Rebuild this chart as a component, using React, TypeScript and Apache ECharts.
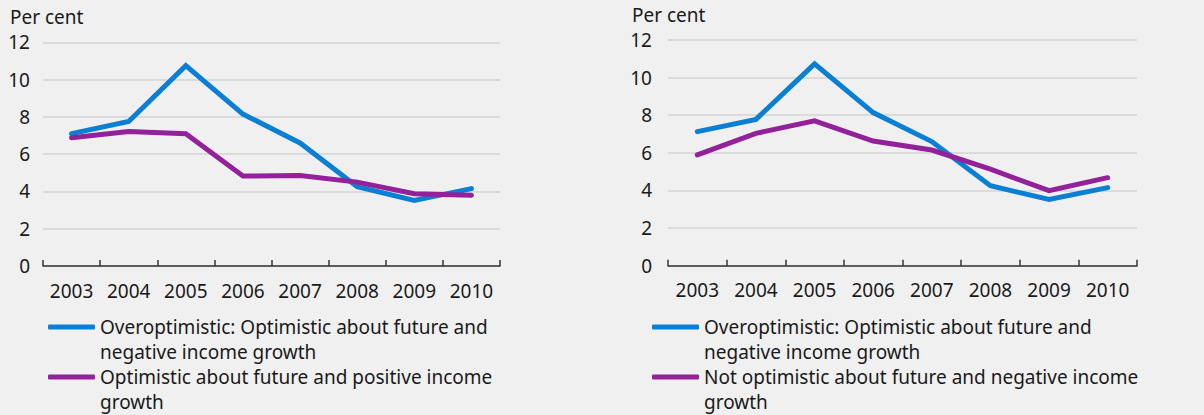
import React, { useEffect, useRef } from "react";
import * as echarts from "echarts";

const years = ["2003", "2004", "2005", "2006", "2007", "2008", "2009", "2010"];
const leftBlue = [7.1, 7.75, 10.75, 8.15, 6.6, 4.25, 3.52, 4.15];
const leftPurple = [6.88, 7.22, 7.1, 4.83, 4.85, 4.5, 3.88, 3.8];
const rightBlue = [7.13, 7.78, 10.73, 8.14, 6.6, 4.25, 3.52, 4.15];
const rightPurple = [5.89, 7.04, 7.7, 6.63, 6.15, 5.13, 3.99, 4.68];

const nameBlue = "Overoptimistic: Optimistic about future and\nnegative income growth";
const nameLeftPurple = "Optimistic about future and positive income\ngrowth";
const nameRightPurple = "Not optimistic about future and negative income\ngrowth";

const BLUE = "#0a7fd4";
const PURPLE = "#93219a";
const TEXT = "#1a1a1a";
const FONT = "Noto Sans";
const FS = 19;

export default function App() {
  const ref = useRef<HTMLDivElement>(null);
  useEffect(() => {
    document.body.style.margin = "0";
    const chart = echarts.init(ref.current!, null, { renderer: "svg" });
    const xAxisBase = (gridIndex: number) => ({
      type: "category" as const,
      gridIndex,
      data: years,
      boundaryGap: true,
      axisLine: { lineStyle: { color: "#333", width: 1.5 } },
      axisTick: { show: true, inside: true, length: 6, lineStyle: { color: "#333", width: 1.5 } },
      axisLabel: { color: TEXT, fontFamily: FONT, fontSize: FS, margin: 15 },
      splitLine: { show: false },
    });
    const yAxisBase = (gridIndex: number, margin: number) => ({
      type: "value" as const,
      gridIndex,
      min: 0,
      max: 12,
      interval: 2,
      axisLine: { show: false },
      axisTick: { show: false },
      axisLabel: { color: TEXT, fontFamily: FONT, fontSize: FS, margin, lineHeight: 19 },
      splitLine: { lineStyle: { color: "#d4d4d4", width: 1.5 } },
    });
    const lineSeries = (name: string, data: number[], color: string, idx: number) => ({
      type: "line" as const,
      name,
      data,
      xAxisIndex: idx,
      yAxisIndex: idx,
      showSymbol: false,
      symbol: "none",
      color,
      lineStyle: { color, width: 5, cap: "round" as const, join: "miter" as const },
    });
    const legendItem = (name: string, color: string, left: number, top: number) => ({
      data: [name],
      left,
      top,
      padding: 0,
      orient: "vertical" as const,
      icon: "roundRect",
      itemWidth: 47,
      itemHeight: 5,
      itemGap: 0,
      selectedMode: false,
      itemStyle: { color },
      formatter: (n: string) => "\n" + n,
      textStyle: {
        color: TEXT,
        fontFamily: FONT,
        fontSize: FS,
        lineHeight: 25,
      },
    });
    chart.setOption({
      animation: false,
      backgroundColor: "#f0f0f0",
      textStyle: { fontFamily: FONT },
      grid: [
        { left: 43, top: 42.3, width: 457, height: 223.7 },
        { left: 668, top: 40, width: 469, height: 225.7 },
      ],
      xAxis: [xAxisBase(0), xAxisBase(1)],
      yAxis: [yAxisBase(0, 13), yAxisBase(1, 16)],
      legend: [
        legendItem(nameBlue, BLUE, 48, 289.5),
        legendItem(nameLeftPurple, PURPLE, 48, 339.5),
        legendItem(nameBlue, BLUE, 652, 289.5),
        legendItem(nameRightPurple, PURPLE, 652, 339.5),
      ],
      graphic: [
        { type: "text", left: 10, top: 7, style: { text: "Per cent", fill: TEXT, font: `${FS}px "${FONT}"`, lineHeight: 19 } },
        { type: "text", left: 632, top: 5, style: { text: "Per cent", fill: TEXT, font: `${FS}px "${FONT}"`, lineHeight: 19 } },
      ],
      series: [
        lineSeries(nameBlue, leftBlue, BLUE, 0),
        lineSeries(nameLeftPurple, leftPurple, PURPLE, 0),
        lineSeries(nameBlue, rightBlue, BLUE, 1),
        lineSeries(nameRightPurple, rightPurple, PURPLE, 1),
      ],
    });
    return () => chart.dispose();
  }, []);
  return <div ref={ref} style={{ width: 1204, height: 415 }} />;
}
